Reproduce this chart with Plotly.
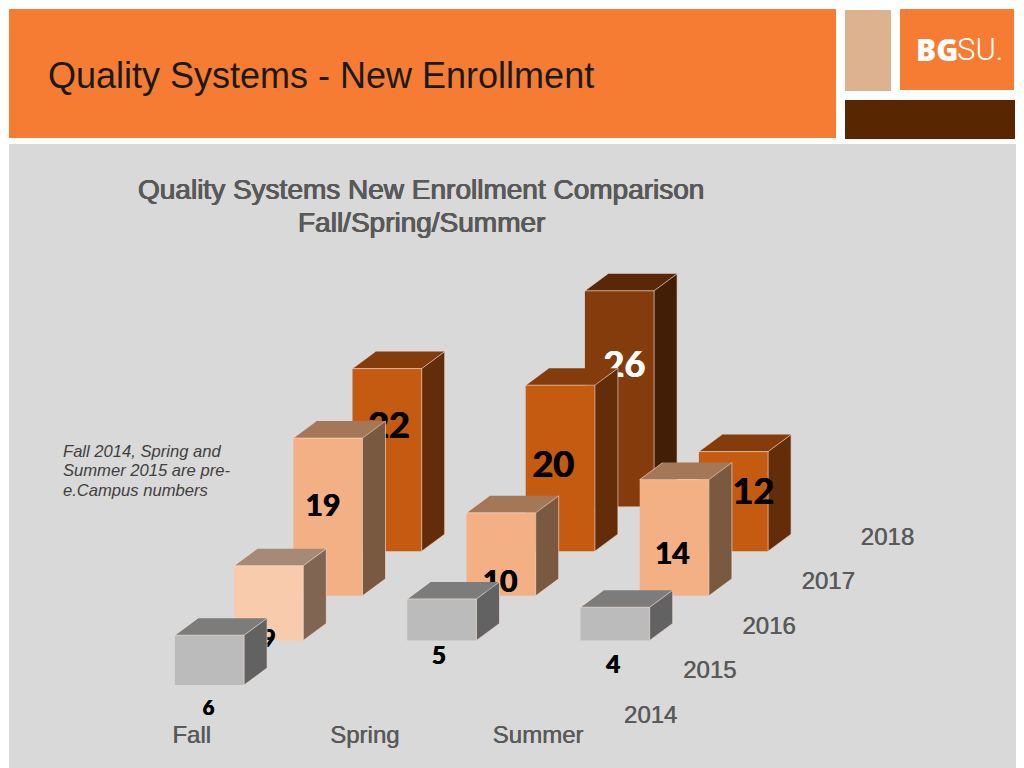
import plotly.graph_objects as go

# ---- data ----
categories = ["Fall", "Spring", "Summer"]
years = ["2014", "2015", "2016", "2017", "2018"]
fall = [6, 9, 19, 22, None]
spring = [None, 5, 10, 20, 26]
summer = [None, 4, 14, 12, None]
series = [fall, spring, summer]

# ---- styles ----
GRAY = ("#BBBBBB", "#7C7C7C", "#626262")
LIGHT = ("#F7CBAC", "#A68A75", "#806552")
PEACH = ("#F3B084", "#A37757", "#7A5941")
ORANGE = ("#C55A11", "#843C0C", "#632D09")
BROWN = ("#843C0C", "#582808", "#421E06")
bar_styles = [
    [GRAY, LIGHT, PEACH, ORANGE, None],
    [None, GRAY, PEACH, ORANGE, BROWN],
    [None, GRAY, PEACH, ORANGE, None],
]
EDGE = "#FBE5D6"

# ---- oblique projection geometry (pixels) ----
W, H = 1024, 768
CAT_PX = 173.2      # pixels per category
VAL_PX = 8.3        # pixels per value unit
X0_PX, Y0_PX = 209.5, 685.0
STEP_X, STEP_Y = 59.2, 44.6
HALF_W = 34.6
BACK_X, BACK_Y = 23.0, 17.0


def px_x(px):
    return (px - X0_PX) / CAT_PX


def px_y(py):
    return (Y0_PX - py) / VAL_PX


def project(cat, depth, value):
    return cat + depth * STEP_X / CAT_PX, value + depth * STEP_Y / VAL_PX


# label placement relative to the foot of each bar's front face (pixels)
label_offsets = [
    [(-1, 25, 20), (0, 1, 24), (-5, -87, 30), (2, -122, 36), None],
    [None, (-3, 18, 24), (-1, -11, 30), (-7, -83, 36), (5, -139, 36)],
    [None, (-2, 27, 24), (-2, -39, 30), (20, -56, 36), None],
]
label_colors = {(1, 4): "white"}

fig = go.Figure()


def face(xs, ys, color):
    fig.add_trace(go.Scatter(x=xs, y=ys, mode="lines", fill="toself", fillcolor=color,
                             line=dict(width=0, color=color), hoverinfo="skip", showlegend=False))


def add_bar(cat, depth, value, style):
    cx, base = project(cat, depth, 0)
    hw = HALF_W / CAT_PX
    bx, by = BACK_X / CAT_PX, BACK_Y / VAL_PX
    l, r, top = cx - hw, cx + hw, base + value
    front, roof, side = style
    face([l, r, r, l, l], [base, base, top, top, base], front)
    face([l, r, r + bx, l + bx, l], [top, top, top + by, top + by, top], roof)
    face([r, r + bx, r + bx, r, r], [base, base + by, top + by, top, base], side)
    fig.add_trace(go.Scatter(
        x=[l, r, r, None, r, r + bx, None, r, r + bx, None, l, l + bx, None, r + bx, r + bx],
        y=[top, top, base, None, top, top + by, None, base, base + by, None, top, top + by, None, top + by, base + by],
        mode="lines", line=dict(color=EDGE, width=0.6), hoverinfo="skip", showlegend=False))


def add_text(x, y, s, size, color, family="Lato", weight="bold", shadow=None):
    font = dict(family=family, size=size, color=color, weight=weight)
    if shadow:
        font["shadow"] = shadow
    fig.add_trace(go.Scatter(x=[x], y=[y], mode="text", text=[s], textposition="middle center",
                             textfont=font, hoverinfo="skip", showlegend=False))


# bars and their labels, back to front so nearer bars hide farther labels
for depth in range(len(years) - 1, -1, -1):
    for cat in range(len(categories)):
        v = series[cat][depth]
        if v is None:
            continue
        add_bar(cat, depth, v, bar_styles[cat][depth])
        dx, dy, size = label_offsets[cat][depth]
        x, base = project(cat, depth, 0)
        col = label_colors.get((cat, depth), "black")
        add_text(x + dx / CAT_PX, base - dy / VAL_PX, str(v), size, col,
                 shadow=f"0.5px 0 0 {col}, -0.5px 0 0 {col}")

# axis labels
AXIS_GRAY = "#595959"
FAUX = "0.5px 0 0 #595959"
for i, name in enumerate(categories):
    add_text(i + (191.5 - X0_PX) / CAT_PX, px_y(737), name, 24, AXIS_GRAY,
             family="Liberation Sans", weight="normal", shadow=FAUX)
for d, yr in enumerate(years):
    x, y = project(0, d, 0)
    add_text(x + (650.5 - X0_PX) / CAT_PX, y + px_y(717), yr, 24, AXIS_GRAY,
             family="Liberation Sans", weight="normal", shadow=FAUX)

shapes = [
    dict(x0=9, x1=836, y0=9, y1=138, color="#F67C33"),
    dict(x0=845, x1=891, y0=10, y1=91, color="#DDB28F"),
    dict(x0=900, x1=1014, y0=9, y1=90, color="#F67C33"),
    dict(x0=845, x1=1015, y0=100, y1=139, color="#582600"),
    dict(x0=9, x1=1016, y0=144, y1=768, color="#D9D9D9"),
]
layout_shapes = [
    dict(type="rect", xref="paper", yref="paper", layer="below", line=dict(width=0),
         fillcolor=s["color"], x0=s["x0"] / W, x1=s["x1"] / W, y0=1 - s["y1"] / H, y1=1 - s["y0"] / H)
    for s in shapes
]


def note(px, py, text, size, color, family="Liberation Sans", anchor="left", **font_kw):
    return dict(xref="paper", yref="paper", x=px / W, y=1 - py / H, text=text, showarrow=False,
                xanchor=anchor, yanchor="middle", align=anchor,
                font=dict(family=family, size=size, color=color, **font_kw))


TITLE_FAUX = "0.5px 0 0 #595959, -0.5px 0 0 #595959, 0 0.3px 0 #595959"
annotations = [
    note(46, 75, "Quality Systems - New Enrollment", 36, "#1A1A1A"),
    note(960, 50, "BG", 30, "white", family="Open Sans", anchor="right", weight=800),
    note(955, 50, "SU.", 31, "white", family="Roboto", anchor="left", weight=300),
    note(421, 189, "Quality Systems New Enrollment Comparison", 28, AXIS_GRAY, anchor="center", shadow=TITLE_FAUX),
    note(421, 222, "Fall/Spring/Summer", 28, AXIS_GRAY, anchor="center", shadow=TITLE_FAUX),
    note(61, 451, "<i>Fall 2014, Spring and</i>", 16.6, "#404040"),
    note(61, 470, "<i>Summer 2015 are pre-</i>", 16.6, "#404040"),
    note(61, 490, "<i>e.Campus numbers</i>", 16.6, "#404040"),
]

fig.update_layout(
    width=W, height=H, margin=dict(l=0, r=0, t=0, b=0),
    paper_bgcolor="white", plot_bgcolor="rgba(0,0,0,0)",
    showlegend=False, shapes=layout_shapes, annotations=annotations,
    xaxis=dict(visible=False, range=[px_x(0), px_x(W)], fixedrange=True),
    yaxis=dict(visible=False, range=[px_y(H), px_y(0)], fixedrange=True),
)

fig.write_html("out.html", config=dict(displayModeBar=False),
               post_script="document.body.style.margin='0';")
